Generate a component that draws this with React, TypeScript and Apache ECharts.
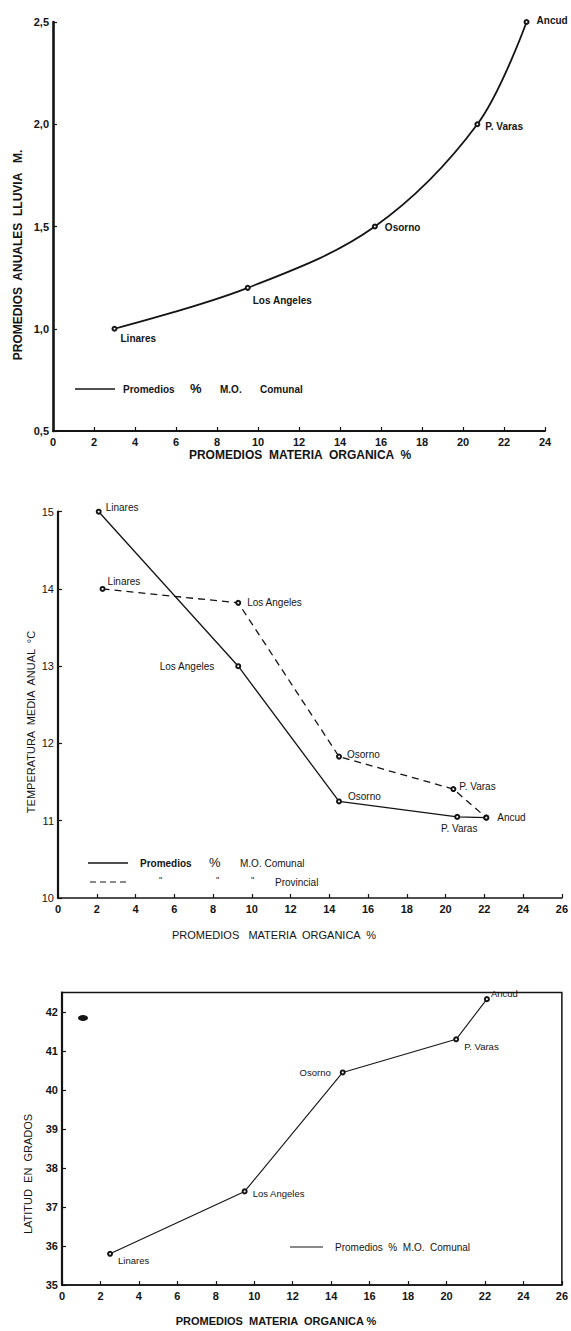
import React, { useEffect, useRef } from 'react';
import * as echarts from 'echarts';

// ---------- data ----------
const TOWNS = ['Linares', 'Los Angeles', 'Osorno', 'P. Varas', 'Ancud'];

// Chart 1: rainfall vs organic matter
const rainMO = [3.0, 9.5, 15.7, 20.7, 23.1];
const rainM = [1.0, 1.2, 1.5, 2.0, 2.5];

// Chart 2: mean annual temperature vs organic matter
const tempComunalMO = [2.1, 9.3, 14.5, 20.6, 22.1];
const tempComunal = [15.0, 13.0, 11.25, 11.05, 11.04];
const tempProvMO = [2.3, 9.3, 14.5, 20.4, 22.1];
const tempProv = [14.0, 13.82, 11.83, 11.41, 11.04];

// Chart 3: latitude vs organic matter
const latMO = [2.5, 9.5, 14.6, 20.5, 22.1];
const latDeg = [35.8, 37.4, 40.45, 41.3, 42.33];

// ---------- label placement (style only) ----------
type Place = [string, number, number, number] | null; // position, distance, dx, dy
const placeTop: Record<string, Place> = {
  'Linares': ['right', 3, 0, 10],
  'Los Angeles': ['right', 2, 0, 13],
  'Osorno': ['right', 7, 0, 1],
  'P. Varas': ['right', 5, 0, 2],
  'Ancud': ['right', 7, 0, -2],
};
const placeMidC: Record<string, Place> = {
  'Linares': ['right', 4, 0, -4],
  'Los Angeles': ['left', 21, 0, 0],
  'Osorno': ['right', 6, 0, -5],
  'P. Varas': ['bottom', 4, 2, 0],
  'Ancud': ['right', 8, 0, 0],
};
const placeMidP: Record<string, Place> = {
  'Linares': ['right', 2, 0, -7],
  'Los Angeles': ['right', 6, 0, 0],
  'Osorno': ['right', 5, 0, -2],
  'P. Varas': ['right', 3, 0, -3],
  'Ancud': null,
};
const placeBot: Record<string, Place> = {
  'Linares': ['right', 5, 0, 7],
  'Los Angeles': ['right', 5, 0, 2],
  'Osorno': ['left', 9, 0, 0],
  'P. Varas': ['right', 5, 0, 7],
  'Ancud': ['right', 1, 0, -6],
};

const FONT = '"Liberation Sans", Arial, Helvetica, sans-serif';
const INK = '#141414';

function buildData(xs: number[], ys: number[], place: Record<string, Place>, bold: boolean, size: number) {
  return xs.map((x, i) => {
    const name = TOWNS[i];
    const p = place[name];
    return {
      name,
      value: [x, ys[i]],
      label: p
        ? {
            show: true,
            formatter: name,
            position: p[0],
            distance: p[1],
            offset: [p[2], p[3]],
            color: INK,
            fontFamily: FONT,
            fontSize: size,
            fontWeight: bold ? 'bold' : 'normal',
          }
        : { show: false },
    };
  });
}

function txt(x: number, y: number, text: string, size: number, bold: boolean, extra: any = {}) {
  return {
    type: 'text',
    x,
    y,
    silent: true,
    ...extra,
    style: {
      text,
      fill: INK,
      fontFamily: FONT,
      fontSize: size,
      fontWeight: bold ? 'bold' : 'normal',
      align: extra.align || 'left',
      verticalAlign: 'middle',
    },
  };
}

function vtxt(x: number, y: number, text: string, size: number, bold: boolean) {
  return {
    type: 'text',
    x,
    y,
    rotation: Math.PI / 2,
    silent: true,
    style: {
      text,
      fill: INK,
      fontFamily: FONT,
      fontSize: size,
      fontWeight: bold ? 'bold' : 'normal',
      align: 'center',
      verticalAlign: 'middle',
    },
  };
}

function hline(x1: number, x2: number, y: number, w: number, dash?: number[]) {
  return {
    type: 'line',
    silent: true,
    shape: { x1, y1: y, x2, y2: y },
    style: { stroke: INK, lineWidth: w, lineDash: dash },
  };
}

function xAxisCfg(grid: number, max: number, lineW: number, bold: boolean) {
  return {
    gridIndex: grid,
    type: 'value',
    min: 0,
    max,
    interval: 2,
    axisLine: { show: true, onZero: false, lineStyle: { color: INK, width: lineW } },
    axisTick: { show: true, inside: true, length: 4, lineStyle: { color: INK, width: 1.2 } },
    axisLabel: { color: INK, fontFamily: FONT, fontSize: 11, fontWeight: bold ? 'bold' : 'normal', margin: 5 },
    splitLine: { show: false },
  };
}

function yAxisCfg(grid: number, min: number, max: number, interval: number, lineW: number, fmt: (v: number) => string, extra: any = {}) {
  return {
    gridIndex: grid,
    type: 'value',
    min,
    max,
    interval,
    axisLine: { show: true, onZero: false, lineStyle: { color: INK, width: lineW } },
    axisTick: { show: true, inside: true, length: 4, lineStyle: { color: INK, width: 1.2 } },
    axisLabel: {
      color: INK,
      fontFamily: FONT,
      fontSize: 11,
      fontWeight: 'bold',
      margin: 4,
      formatter: fmt,
      ...extra,
    },
    splitLine: { show: false },
  };
}

export default function App() {
  const ref = useRef<HTMLDivElement>(null);

  useEffect(() => {
    if (!ref.current) return;
    const chart = echarts.init(ref.current, undefined, { renderer: 'svg' });

    const option: any = {
      animation: false,
      backgroundColor: '#ffffff',
      grid: [
        { left: 53, top: 22, width: 492, height: 409 },
        { left: 58, top: 511.7, width: 507, height: 386.3 },
        {
          left: 62,
          top: 992.5,
          width: 503,
          height: 292.5,
          show: true,
          borderColor: INK,
          borderWidth: 1.5,
          backgroundColor: 'transparent',
        },
      ],
      xAxis: [xAxisCfg(0, 24, 2, true), xAxisCfg(1, 26, 1.6, true), xAxisCfg(2, 26, 1.6, true)],
      yAxis: [
        yAxisCfg(0, 0.5, 2.5, 0.5, 2.6, (v: number) => v.toFixed(1).replace('.', ',')),
        yAxisCfg(1, 10, 15, 1, 2.2, (v: number) => String(Math.round(v)), { fontWeight: 'normal' }),
        yAxisCfg(2, 35, 42.5, 1, 2.2, (v: number) => String(Math.round(v)), { showMaxLabel: false }),
      ],
      series: [
        {
          name: 'Promedios % M.O. Comunal (lluvia)',
          type: 'line',
          xAxisIndex: 0,
          yAxisIndex: 0,
          smooth: 0.35,
          symbol: 'emptyCircle',
          symbolSize: 4,
          lineStyle: { color: INK, width: 1.8 },
          itemStyle: { color: INK, borderColor: INK, borderWidth: 1.2 },
          data: buildData(rainMO, rainM, placeTop, true, 10),
        },
        {
          name: 'Promedios % M.O. Comunal',
          type: 'line',
          xAxisIndex: 1,
          yAxisIndex: 1,
          symbol: 'emptyCircle',
          symbolSize: 4,
          lineStyle: { color: INK, width: 1.3 },
          itemStyle: { color: INK, borderColor: INK, borderWidth: 1 },
          data: buildData(tempComunalMO, tempComunal, placeMidC, false, 10),
        },
        {
          name: 'Promedios % M.O. Provincial',
          type: 'line',
          xAxisIndex: 1,
          yAxisIndex: 1,
          symbol: 'emptyCircle',
          symbolSize: 4,
          lineStyle: { color: INK, width: 1.3, type: [7, 5] },
          itemStyle: { color: INK, borderColor: INK, borderWidth: 1 },
          data: buildData(tempProvMO, tempProv, placeMidP, false, 10),
        },
        {
          name: 'Latitud',
          type: 'line',
          xAxisIndex: 2,
          yAxisIndex: 2,
          symbol: 'emptyCircle',
          symbolSize: 4,
          lineStyle: { color: INK, width: 1.1 },
          itemStyle: { color: INK, borderColor: INK, borderWidth: 1 },
          data: buildData(latMO, latDeg, placeBot, false, 9.5),
        },
      ],
      graphic: [
        // chart 1 titles & legend
        vtxt(18, 255, 'PROMEDIOS  ANUALES  LLUVIA   M.', 12, true),
        txt(300, 455, 'PROMEDIOS  MATERIA  ORGANICA  %', 12, true, { align: 'center' }),
        hline(75, 115, 389, 1.6),
        txt(123, 389, 'Promedios', 10, true),
        txt(190, 388, '%', 13, true),
        txt(220, 389, 'M.O.', 10, true),
        txt(260, 389, 'Comunal', 10, true),

        // chart 2 titles & legend
        vtxt(31, 722, 'TEMPERATURA  MEDIA  ANUAL  °C', 11, false),
        txt(274, 935, 'PROMEDIOS   MATERIA  ORGANICA  %', 11, false, { align: 'center' }),
        hline(88, 128, 863, 1.3),
        txt(140, 863, 'Promedios', 10, true),
        txt(209, 862, '%', 13, false),
        txt(240, 863, 'M.O. Comunal', 10, false),
        hline(90, 128, 882, 1.1, [6, 4]),
        txt(159, 880, '"', 9, false),
        txt(216, 880, '"', 9, false),
        txt(251, 880, '"', 9, false),
        txt(275, 882, 'Provincial', 10, false),

        // chart 3 titles & legend
        vtxt(28, 1174, 'LATITUD  EN  GRADOS', 11, false),
        txt(276, 1321, 'PROMEDIOS  MATERIA  ORGANICA %', 11, true, { align: 'center' }),
        hline(290, 323, 1247, 1.1),
        txt(335, 1247, 'Promedios  %  M.O.  Comunal', 10, false),
        {
          type: 'ellipse',
          silent: true,
          shape: { cx: 83, cy: 1018, rx: 5, ry: 3 },
          style: { fill: INK },
        },
      ],
    };

    chart.setOption(option);
    return () => chart.dispose();
  }, []);

  return (
    <div
      ref={ref}
      style={{ position: 'absolute', left: 0, top: 0, width: 571, height: 1331, background: '#fff' }}
    />
  );
}
